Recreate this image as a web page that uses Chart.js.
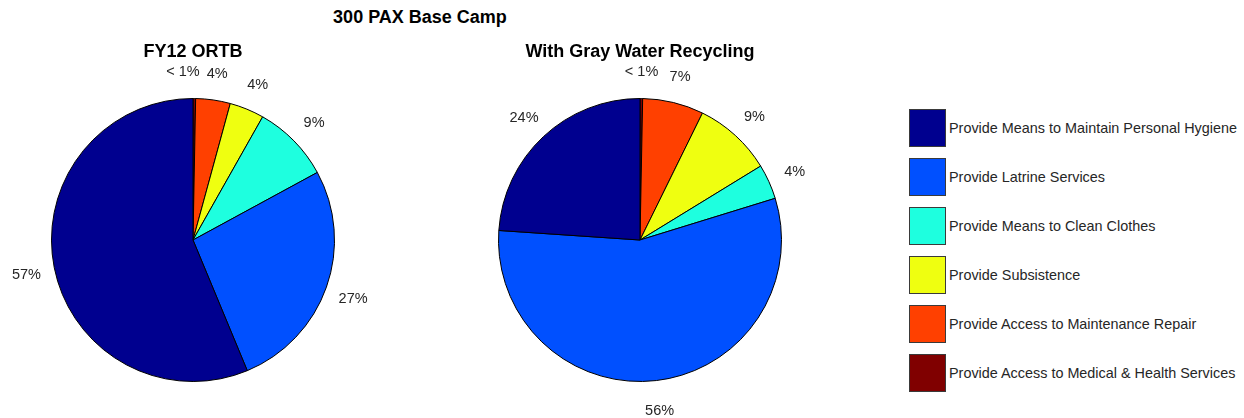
<!DOCTYPE html>
<html>
<head>
<meta charset="utf-8">
<script src="https://cdn.jsdelivr.net/npm/chart.js@4.4.1/dist/chart.umd.min.js"></script>
<style>
  html, body { margin: 0; padding: 0; background: #fff; }
  body { width: 1244px; height: 418px; position: relative; overflow: hidden;
         font-family: "Liberation Sans", Arial, Helvetica, sans-serif; }
  #mainTitle { position: absolute; left: 270px; width: 300px; top: 7px; text-align: center;
               font-weight: bold; font-size: 18px; color: #000; }
  canvas { position: absolute; top: 0; }
  #legend { position: absolute; left: 909px; top: 109px; }
  .item { display: flex; align-items: center; height: 37px; margin-bottom: 12px; }
  .box { width: 35px; height: 36px; border: 1px solid #3a3a3a; box-sizing: content-box; margin-right: 3px; }
  .lbl { font-size: 14.4px; color: #262626; white-space: nowrap; }
</style>
</head>
<body>
<div id="mainTitle">300 PAX Base Camp</div>
<canvas id="pieA" width="386" height="418" style="left:0px"></canvas>
<canvas id="pieB" width="400" height="418" style="left:440px"></canvas>
<div id="legend"></div>
<script>
// --- data (legend order, counter-clockwise from 12 o'clock) ---
const categories = [
  "Provide Means to Maintain Personal Hygiene",
  "Provide Latrine Services",
  "Provide Means to Clean Clothes",
  "Provide Subsistence",
  "Provide Access to Maintenance Repair",
  "Provide Access to Medical & Health Services"
];
const colors = ["#00008f", "#0050ff", "#1effdf", "#efff10", "#ff4000", "#800000"];
const titles = ["FY12 ORTB", "With Gray Water Recycling"];
const ortbPct = [57, 27, 9, 4, 4, 0.3];
const grayWaterPct = [24, 56, 4, 9, 7, 0.3];

function pctLabel(v) {
  return v < 1 ? "< 1%" : v + "%";
}

// percent labels outside the wedges, like matlab's pie()
const outsideLabels = {
  id: "outsideLabels",
  afterDatasetsDraw(chart) {
    const ctx = chart.ctx;
    const meta = chart.getDatasetMeta(0);
    const vals = chart.data.datasets[0].data;
    ctx.save();
    ctx.font = "14.5px 'Liberation Sans', Arial, sans-serif";
    ctx.fillStyle = "#262626";
    ctx.textBaseline = "middle";
    const items = meta.data.map((arc, i) => {
      const p = arc.getProps(["x", "y", "startAngle", "endAngle", "outerRadius"], true);
      const mid = (p.startAngle + p.endAngle) / 2;
      const r = p.outerRadius * 1.2;
      const text = pctLabel(vals[i]);
      const w = ctx.measureText(text).width;
      return { text, w, cx: p.x + Math.cos(mid) * r, cy: p.y + Math.sin(mid) * r + 2, v: vals[i] };
    });
    // push tiny-slice labels away from the neighbour they collide with
    for (let i = 0; i < items.length; i++) {
      const a = items[i];
      if (a.v >= 1) continue;
      const b = items[(i + 1) % items.length];
      const aR = a.cx + a.w / 2, bL = b.cx - b.w / 2;
      if (aR > bL - 7 && Math.abs(a.cy - b.cy) < 16) a.cx -= aR - (bL - 7);
    }
    ctx.textAlign = "center";
    items.forEach(it => ctx.fillText(it.text, it.cx, it.cy));
    ctx.restore();
  }
};

function makePie(id, values, title, cx) {
  const canvas = document.getElementById(id);
  return new Chart(canvas, {
    type: "pie",
    data: {
      // reversed so chart.js' clockwise sweep reproduces the ccw order
      labels: categories.slice().reverse(),
      datasets: [{
        data: values.slice().reverse(),
        backgroundColor: colors.slice().reverse(),
        borderColor: "#000",
        borderWidth: 1,
        borderAlign: "center"
      }]
    },
    options: {
      responsive: false,
      animation: false,
      layout: { padding: { left: cx - 142, right: canvas.width - cx - 142, top: 0, bottom: 36 } },
      plugins: {
        legend: { display: false },
        tooltip: { enabled: false },
        title: {
          display: true,
          text: title,
          color: "#000",
          font: { family: "'Liberation Sans', Arial, sans-serif", size: 18, weight: "bold", lineHeight: 1.2 },
          padding: { top: 41, bottom: 35.4 }
        }
      }
    },
    plugins: [outsideLabels]
  });
}

makePie("pieA", ortbPct, titles[0], 193);
makePie("pieB", grayWaterPct, titles[1], 200);

// legend
const legend = document.getElementById("legend");
categories.forEach((name, i) => {
  const row = document.createElement("div");
  row.className = "item";
  const box = document.createElement("div");
  box.className = "box";
  box.style.background = colors[i];
  const lbl = document.createElement("span");
  lbl.className = "lbl";
  lbl.textContent = name;
  row.appendChild(box);
  row.appendChild(lbl);
  legend.appendChild(row);
});
</script>
</body>
</html>
